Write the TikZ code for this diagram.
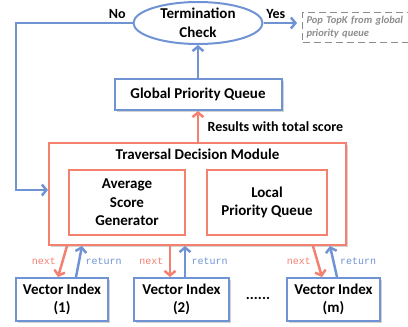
\documentclass[tikz,border=0pt]{standalone}
\usepackage{fontspec}
\setmainfont{Carlito}
\newfontfamily\codefont{Liberation Mono}
\usepackage{tikz}
\usetikzlibrary{shapes.geometric, arrows.meta, positioning, shadows}
\definecolor{FlowBlue}{HTML}{7093D3}
\definecolor{FlowRed}{HTML}{F48070}
\definecolor{NoteGray}{HTML}{8C8C8C}
\tikzset{
  bluebox/.style={rectangle, draw=FlowBlue, line width=2pt, fill=white, align=center, font=\bfseries\fontsize{15}{18.5}\selectfont, drop shadow={shadow xshift=2pt, shadow yshift=-2pt, opacity=0.35}},
  modulebox/.style={rectangle, draw=FlowRed, line width=2pt, fill=white, drop shadow={shadow xshift=2pt, shadow yshift=-2pt, opacity=0.35}},
  innerbox/.style={rectangle, draw=FlowRed, line width=2pt, fill=white, align=center, font=\bfseries\fontsize{15}{18.5}\selectfont},
  checknode/.style={ellipse, draw=FlowBlue, line width=2pt, fill=white, align=center, inner xsep=2pt, inner ysep=-2pt, minimum width=129pt, minimum height=42pt, font=\bfseries\fontsize{15}{18.5}\selectfont},
  popbox/.style={rectangle, draw=NoteGray, line width=1pt, dash pattern=on 7pt off 4pt, text=NoteGray, text width=104pt, inner xsep=4pt, minimum height=30pt, align=left, font=\bfseries\itshape\fontsize{10.5}{13.5}\selectfont},
  labeltext/.style={text=black, font=\bfseries\fontsize{14}{17}\selectfont},
  bluearrow/.style={-{Straight Barb[length=4.5pt, width=11pt]}, line width=2.5pt, FlowBlue},
  redarrow/.style={-{Straight Barb[length=4.5pt, width=11pt]}, line width=2.5pt, FlowRed},
  nextlabel/.style={text=FlowRed, font=\codefont\fontsize{10}{12}\selectfont},
  returnlabel/.style={text=FlowBlue, font=\codefont\fontsize{10}{12}\selectfont}
}
\begin{document}
\begin{tikzpicture}[x=1pt, y=-1pt]
  \useasboundingbox (0,0) rectangle (408,327);
  % check and result
  \node[checknode] (check) at (198,23) {Termination\\Check};
  \node[popbox, anchor=west] (pop) at (302,27) {Pop TopK from global\\priority queue};
  \node[bluebox, minimum width=167pt, minimum height=31pt] (gpq) at (198,94.5) {Global Priority Queue};
  % traversal decision module
  \node[modulebox, minimum width=297pt, minimum height=102pt] (module) at (197.5,194) {};
  \node[labeltext, font=\bfseries\fontsize{15}{18.5}\selectfont, below=3pt of module.north] (title) {Traversal Decision Module};
  \node[innerbox, minimum width=116pt, minimum height=65pt] (avg) at (127,202.5) {Average\\Score\\Generator};
  \node[innerbox, minimum width=120pt, minimum height=65pt] (local) at (267,202.5) {Local\\Priority Queue};
  % vector indexes
  \node[bluebox, minimum width=92pt, minimum height=43pt] (vec1) at (62,299.5) {Vector Index\\(1)};
  \node[bluebox, minimum width=95pt, minimum height=43pt] (vec2) at (181.5,299.5) {Vector Index\\(2)};
  \node[bluebox, minimum width=93pt, minimum height=43pt] (vecm) at (333.5,299.5) {Vector Index\\(m)};
  \node[labeltext, font=\bfseries\fontsize{15}{18.5}\selectfont] (dots) at (258,298) {......};
  \coordinate (loopcorner) at (16,23);

  \draw[bluearrow] (gpq) -- (check);
  \draw[redarrow] (module.north -| gpq) -- (gpq.south) node[labeltext, midway, right=5pt] (results) {Results with total score};
  \draw[bluearrow, shorten >=5pt] (check.east) -- (check.east -| pop.west) node[labeltext, pos=0.32, above] (yes) {Yes};
  \draw[bluearrow] (check.west) -- (loopcorner) node[labeltext, pos=0.13, above] (no) {No} |- ([yshift=4pt]module.west);

  \draw[redarrow] ([xshift=-130.5pt]module.south) -- ([xshift=-4pt]vec1.north) node[nextlabel, midway, left=2pt] (next1) {next};
  \draw[bluearrow] ([xshift=14pt]vec1.north) -- ([xshift=-115.5pt]module.south) node[returnlabel, midway, right=2pt] (return1) {return};
  \draw[redarrow] ([xshift=-27.5pt]module.south) -- ([xshift=-11.5pt]vec2.north) node[nextlabel, midway, left=2pt] (next2) {next};
  \draw[bluearrow] ([xshift=3.5pt]vec2.north) -- ([xshift=-12.5pt]module.south) node[returnlabel, midway, right=2pt] (return2) {return};
  \draw[redarrow] ([xshift=115.5pt]module.south) -- ([xshift=-11.5pt]vecm.north) node[nextlabel, midway, left=2pt] (nextm) {next};
  \draw[bluearrow] ([xshift=3.5pt]vecm.north) -- ([xshift=132.5pt]module.south) node[returnlabel, midway, right=2pt] (returnm) {return};
\end{tikzpicture}
\end{document}
